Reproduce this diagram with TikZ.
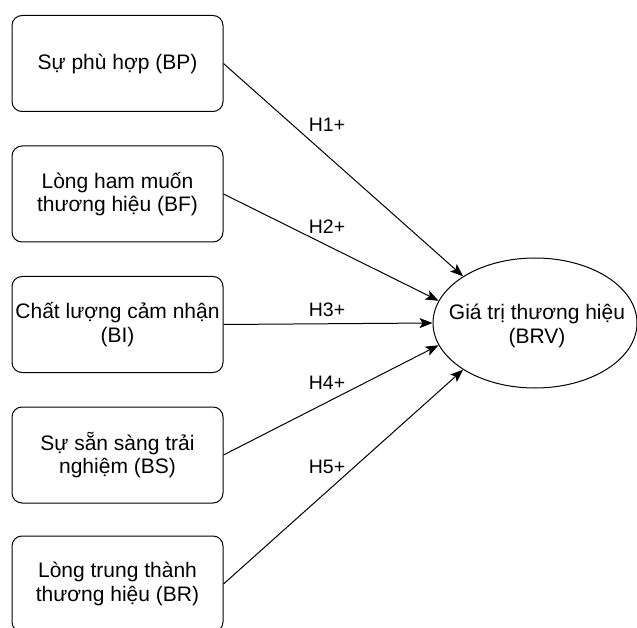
\documentclass[tikz,border=0pt]{standalone}
\usepackage{fontspec}
\setmainfont{Liberation Sans}
\usetikzlibrary{shapes.geometric}
\usetikzlibrary{arrows.meta}

\begin{document}
\begin{tikzpicture}[x=1pt,y=-1pt,
  box/.style={draw,line width=1pt,rounded corners=10pt,minimum width=211pt,minimum height=96pt,
    inner sep=0pt,align=center,font=\fontsize{21}{23.5}\selectfont},
  hyp/.style={font=\fontsize{19.5}{22}\selectfont},
  >={Stealth[length=13pt,width=10pt,inset=3pt]}]
 \useasboundingbox (0,0) rectangle (637,628);
 % left boxes
 \node[box] (bp) at (117.5,63.5) {Sự phù hợp (BP)};
 \node[box] (bf) at (117.5,194) {Lòng ham muốn\\thương hiệu (BF)};
 \node[box] (bi) at (117.5,324.5) {Chất lượng cảm nhận\\(BI)};
 \node[box] (bs) at (117.5,455) {Sự sẵn sàng trải\\nghiệm (BS)};
 \node[box] (br) at (117.5,584) {Lòng trung thành\\thương hiệu (BR)};
 % ellipse
 \node[draw,line width=1pt,ellipse,minimum width=204pt,minimum height=130pt,inner sep=0pt] (brv) at (535,323) {};
 \node[align=center,font=\fontsize{21}{23.5}\selectfont] (brvtext) at (537,326) {Giá trị thương hiệu\\(BRV)};
 % hypotheses
 \node[hyp] (h1) at (327,125) {H1+};
 \node[hyp] (h2) at (327,227) {H2+};
 \node[hyp] (h3) at (327,310) {H3+};
 \node[hyp] (h4) at (327,383) {H4+};
 \node[hyp] (h5) at (327,467) {H5+};
 \draw[->,line width=1pt] (bp.east) -- (brv.147);
 \draw[->,line width=1pt] (bf.east) -- (brv.167);
 \draw[->,line width=1pt] (bi.east) -- (brv.180);
 \draw[->,line width=1pt] (bs.east) -- (brv.193);
 \draw[->,line width=1pt] (br.east) -- (brv.213);
\end{tikzpicture}
\end{document}
